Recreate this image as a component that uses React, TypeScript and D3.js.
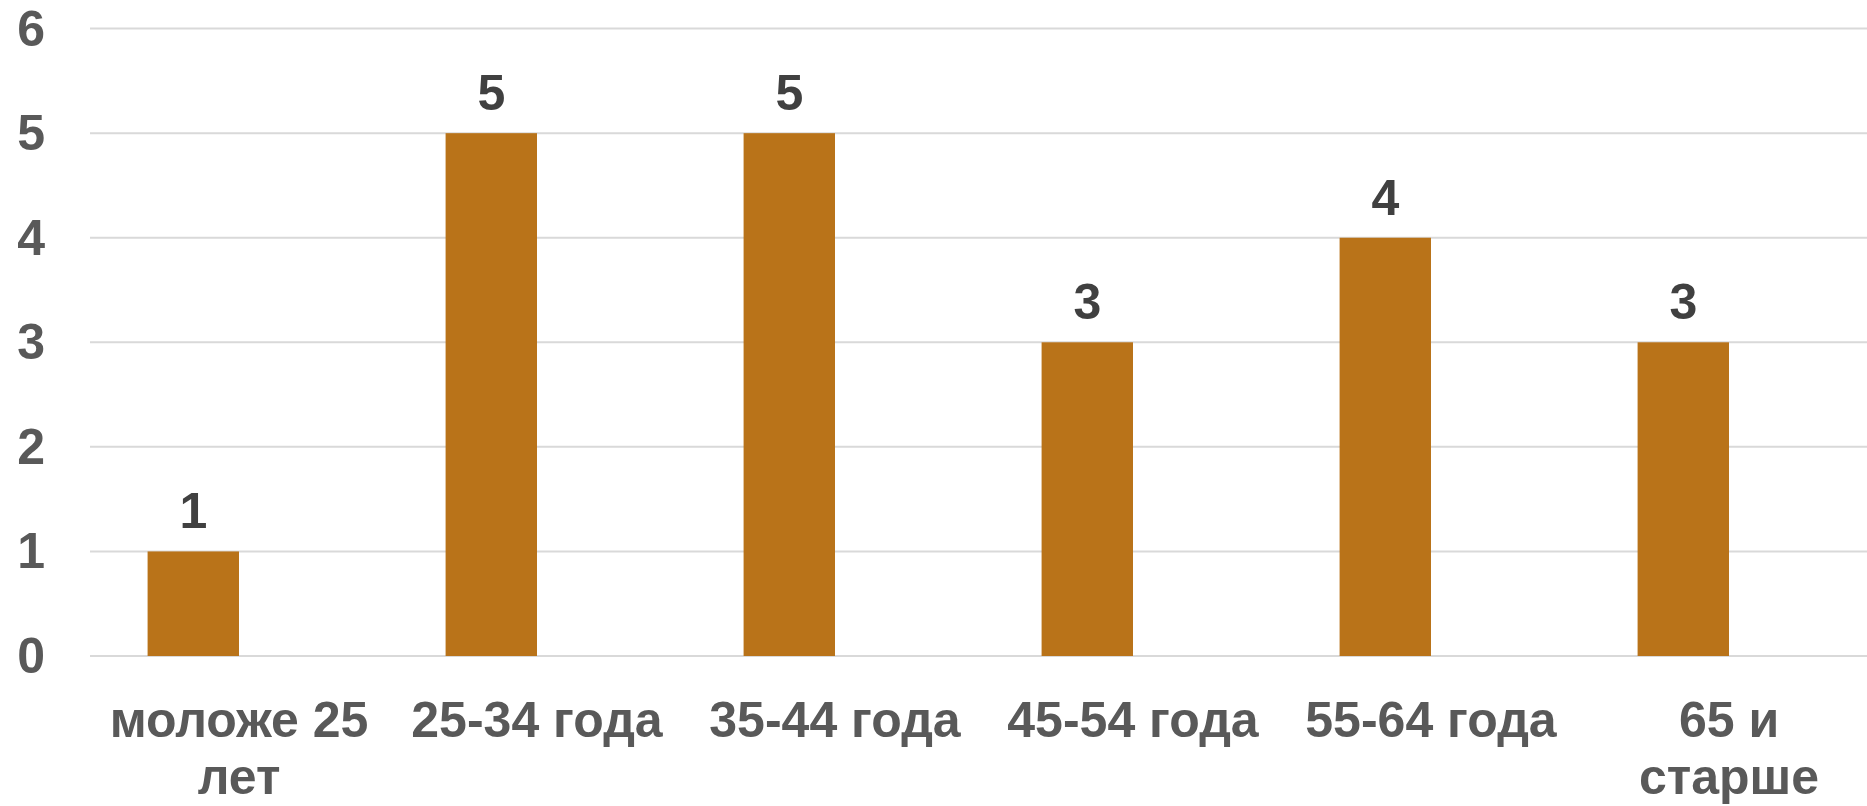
import { useMemo } from "react";
import * as d3 from "d3";

const WIDTH = 1867;
const HEIGHT = 806;
// plot area runs slightly past the right edge of the picture (cropped)
const MARGIN = { top: 28.6, right: -11, bottom: 150, left: 90 };

// categories (wrapped as in the original)
const categories = [
  "моложе 25 лет",
  "25-34 года",
  "35-44 года",
  "45-54 года",
  "55-64 года",
  "65 и старше",
];
const categoryLines = [
  ["моложе 25", "лет"],
  ["25-34 года"],
  ["35-44 года"],
  ["45-54 года"],
  ["55-64 года"],
  ["65 и", "старше"],
];
const values = [1, 5, 5, 3, 4, 3];
// second (empty) series keeps the bar at the left half of each category
const series = ["main", "empty"];
const yTicks = [0, 1, 2, 3, 4, 5, 6];

const FONT = "'Century Gothic', 'Liberation Sans', Arial, sans-serif";
const FONT_SIZE = 50;
const BAR_COLOR = "#B97319";
const GRID_COLOR = "#D9D9D9";
const AXIS_TEXT = "#595959";
const LABEL_TEXT = "#404040";

export default function App() {
  const boundsWidth = WIDTH - MARGIN.left - MARGIN.right;
  const zeroY = 656;

  const xScale = useMemo(
    () =>
      d3
        .scaleBand()
        .domain(categories)
        .range([MARGIN.left, MARGIN.left + boundsWidth])
        .padding(0),
    [boundsWidth]
  );

  const xSub = useMemo(
    () =>
      d3
        .scaleBand()
        .domain(series)
        .range([0, xScale.bandwidth()])
        .paddingInner(0)
        .paddingOuter(0.63),
    [xScale]
  );

  const yScale = useMemo(
    () => d3.scaleLinear().domain([0, 6]).range([zeroY, MARGIN.top]),
    []
  );

  const grid = yTicks.map((t) => (
    <g key={t}>
      <line
        x1={MARGIN.left}
        x2={WIDTH}
        y1={yScale(t)}
        y2={yScale(t)}
        stroke={GRID_COLOR}
        strokeWidth={2}
      />
      <text
        x={45}
        y={yScale(t)}
        textAnchor="end"
        dominantBaseline="central"
        fontSize={FONT_SIZE}
        fontWeight="bold"
        fill={AXIS_TEXT}
      >
        {t}
      </text>
    </g>
  ));

  const bars = categories.map((c, i) => {
    const x0 = (xScale(c) || 0) + (xSub("main") || 0);
    const w = xSub.bandwidth();
    return (
      <g key={c}>
        <rect
          x={x0}
          y={yScale(values[i])}
          width={w}
          height={yScale(0) - yScale(values[i])}
          fill={BAR_COLOR}
        />
        <text
          x={x0 + w / 2}
          y={yScale(values[i]) - 23}
          textAnchor="middle"
          fontSize={FONT_SIZE}
          fontWeight="bold"
          fill={LABEL_TEXT}
        >
          {values[i]}
        </text>
      </g>
    );
  });

  const xLabels = categories.map((c, i) => {
    const cx = (xScale(c) || 0) + xScale.bandwidth() / 2;
    return (
      <text
        key={c}
        x={cx}
        y={737}
        textAnchor="middle"
        fontSize={FONT_SIZE}
        fontWeight="bold"
        fill={AXIS_TEXT}
      >
        {categoryLines[i].map((line, j) => (
          <tspan key={j} x={cx} dy={j === 0 ? 0 : 57}>
            {line}
          </tspan>
        ))}
      </text>
    );
  });

  return (
    <svg
      width={WIDTH}
      height={HEIGHT}
      style={{ position: "absolute", left: 0, top: 0, background: "#fff" }}
      fontFamily={FONT}
    >
      {grid}
      {bars}
      {xLabels}
    </svg>
  );
}
